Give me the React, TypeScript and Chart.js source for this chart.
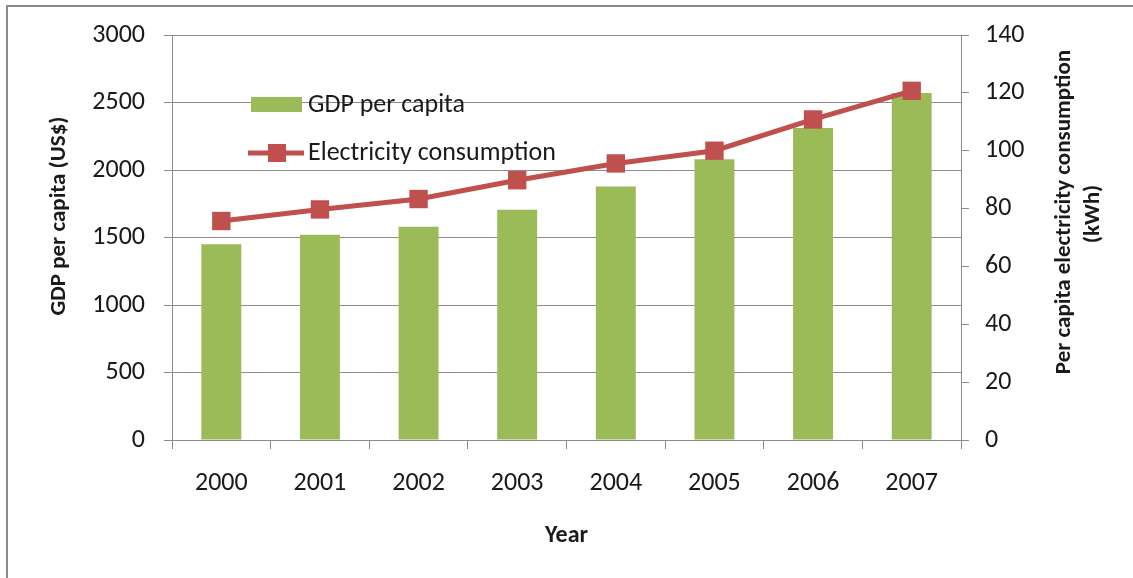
import React, { useEffect, useRef } from "react";
import { Chart, registerables } from "chart.js";

Chart.register(...registerables);

const years = ["2000", "2001", "2002", "2003", "2004", "2005", "2006", "2007"];
const gdpPerCapita = [1450, 1520, 1580, 1705, 1878, 2080, 2312, 2570];
const electricity = [75.7, 79.7, 83.3, 89.8, 95.6, 100, 110.8, 120.7];
const gdpTicks = [0, 500, 1000, 1500, 2000, 2500, 3000];
const elecTicks = [0, 20, 40, 60, 80, 100, 120, 140];

const FONT = "Carlito, Lato, 'Open Sans', sans-serif";
const GREEN = "#9BBB59";
const RED = "#C0504D";
const GRID = "#8C8C8C";
const TEXT = "#1a1a1a";
const SIZE = 26;
const TITLE_SIZE = 23;

const decorPlugin = {
  id: "decor",
  afterDraw(chart: any) {
    const ctx = chart.ctx as CanvasRenderingContext2D;
    ctx.save();
    // outer frame (top and left edges)
    ctx.fillStyle = "#8a8a8a";
    ctx.fillRect(6, 5, chart.width - 6, 2);
    ctx.fillRect(6, 5, 2, chart.height - 5);

    // legend
    ctx.fillStyle = GREEN;
    ctx.fillRect(251, 97, 51, 15);
    ctx.strokeStyle = RED;
    ctx.lineWidth = 5;
    ctx.beginPath();
    ctx.moveTo(248, 153);
    ctx.lineTo(304, 153);
    ctx.stroke();
    ctx.fillStyle = RED;
    ctx.fillRect(268, 144, 18, 18);
    ctx.fillStyle = TEXT;
    ctx.font = `${SIZE}px ${FONT}`;
    ctx.textAlign = "left";
    ctx.textBaseline = "middle";
    ctx.fillText("GDP per capita", 308, 105);
    ctx.fillText("Electricity consumption", 308, 153);

    // left axis title
    ctx.font = `bold ${TITLE_SIZE}px ${FONT}`;
    ctx.textAlign = "center";
    ctx.save();
    ctx.translate(59, 216);
    ctx.rotate(-Math.PI / 2);
    ctx.fillText("GDP per capita (US$)", 0, 0);
    ctx.restore();

    // right axis title (two lines, reading bottom to top)
    ctx.save();
    ctx.translate(1064, 212);
    ctx.rotate(-Math.PI / 2);
    ctx.fillText("Per capita electricity consumption", 0, 0);
    ctx.restore();
    ctx.save();
    ctx.translate(1093, 214);
    ctx.rotate(-Math.PI / 2);
    ctx.fillText("(kWh)", 0, 0);
    ctx.restore();
    ctx.restore();
  },
};

export default function App() {
  const ref = useRef<HTMLCanvasElement>(null);

  useEffect(() => {
    if (!ref.current) return;
    const chart = new Chart(ref.current, {
      type: "bar",
      data: {
        labels: years,
        datasets: [
          {
            type: "line",
            label: "Electricity consumption",
            data: electricity,
            yAxisID: "y1",
            borderColor: RED,
            backgroundColor: RED,
            borderWidth: 5,
            pointStyle: "rect",
            pointRadius: 13,
            pointBorderWidth: 0,
            pointBackgroundColor: RED,
            tension: 0,
            order: 0,
          } as any,
          {
            type: "bar",
            label: "GDP per capita",
            data: gdpPerCapita,
            yAxisID: "y",
            backgroundColor: GREEN,
            borderWidth: 0,
            barPercentage: 0.405,
            categoryPercentage: 1,
            order: 1,
          },
        ],
      },
      options: {
        responsive: false,
        animation: false,
        layout: { padding: { top: 35, left: 0, right: 0, bottom: 0 } },
        plugins: {
          legend: { display: false },
          tooltip: { enabled: false },
        },
        scales: {
          x: {
            offset: true,
            grid: {
              offset: true,
              drawOnChartArea: false,
              drawTicks: true,
              tickLength: 9,
              color: GRID,
            },
            border: { color: GRID, width: 1 },
            ticks: {
              color: TEXT,
              font: { family: FONT, size: SIZE },
              padding: 19,
              maxRotation: 0,
            },
            title: {
              display: true,
              text: "Year",
              color: TEXT,
              font: { family: FONT, size: 24, weight: "bold" },
              padding: { top: 0, bottom: 28 },
            },
            afterFit(scale: any) {
              scale.height = 138;
            },
          },
          y: {
            position: "left",
            min: 0,
            max: 3000,
            afterBuildTicks(scale: any) {
              scale.ticks = gdpTicks.map((v) => ({ value: v }));
            },
            grid: {
              color: GRID,
              tickLength: 8,
              drawTicks: true,
            },
            border: { color: GRID, width: 1 },
            ticks: {
              color: TEXT,
              font: { family: FONT, size: SIZE },
              padding: 19,
              callback: (v: any) => String(v),
            },
            afterFit(scale: any) {
              scale.width = 172;
            },
          },
          y1: {
            position: "right",
            min: 0,
            max: 140,
            afterBuildTicks(scale: any) {
              scale.ticks = elecTicks.map((v) => ({ value: v }));
            },
            grid: {
              drawOnChartArea: false,
              color: GRID,
              tickLength: 8,
              drawTicks: true,
            },
            border: { color: GRID, width: 1 },
            ticks: {
              color: TEXT,
              font: { family: FONT, size: SIZE },
              padding: 16,
              callback: (v: any) => String(v),
            },
            afterFit(scale: any) {
              scale.width = 172;
            },
          },
        },
      },
      plugins: [decorPlugin],
    });
    return () => chart.destroy();
  }, []);

  return (
    <div
      style={{
        position: "fixed",
        left: 0,
        top: 0,
        width: 1133,
        height: 578,
        background: "#ffffff",
      }}
    >
      <canvas ref={ref} width={1133} height={578} />
    </div>
  );
}
